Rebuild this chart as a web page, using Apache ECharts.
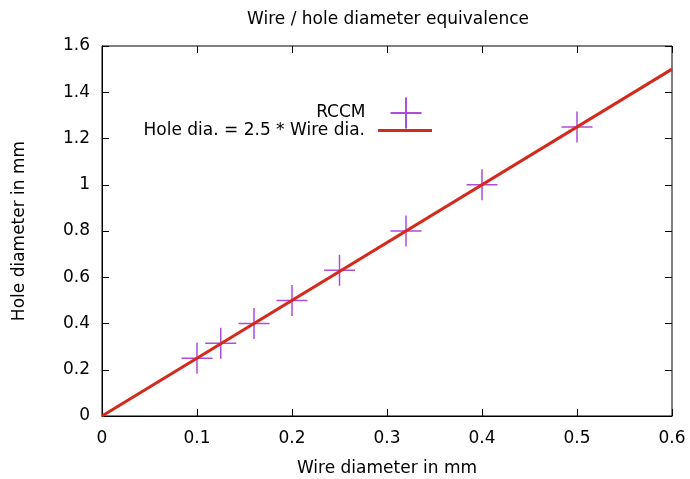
<!DOCTYPE html>
<html style="height: 100%">
<head>
<meta charset="utf-8">
<script src="https://cdn.jsdelivr.net/npm/echarts@6/dist/echarts.min.js"></script>
</head>
<body style="height: 100%; margin: 0; background: #fff">
<div id="container" style="width: 690px; height: 479px"></div>
<script type="text/javascript">
// measured points (wire dia., hole dia.)
var wireDia = [0.1, 0.125, 0.16, 0.2, 0.25, 0.32, 0.4, 0.5];
var holeDia = [0.25, 0.315, 0.4, 0.5, 0.63, 0.8, 1.0, 1.25];
// reference line endpoints
var lineX = [0, 0.6];
var lineY = [0, 1.5];

var xTicks = { min: 0, max: 0.6, interval: 0.1 };
var yTicks = { min: 0, max: 1.6, interval: 0.2 };

var font = 'DejaVu Sans';
var cross = 'path://M0,50L100,50M50,0L50,100';

var pts = wireDia.map(function (x, i) { return [x, holeDia[i]]; });
var linePts = lineX.map(function (x, i) { return [x, lineY[i]]; });

function inTick() {
    return { show: true, inside: true, length: 7, lineStyle: { color: '#000' } };
}

// mirror axes on top / right, ticks only (onZero off, else they jump to the other side)
function mirrorAxis(pos, range) {
    return Object.assign({
        type: 'value', position: pos,
        axisLabel: { show: false },
        axisTick: inTick(),
        axisLine: { show: false, onZero: false },
        splitLine: { show: false }
    }, range);
}

var dom = document.getElementById('container');
var myChart = echarts.init(dom);
var option = {
    animation: false,
    title: {
        text: 'Wire / hole diameter equivalence',
        left: 383, top: 6, textAlign: 'center',
        textStyle: { fontFamily: font, fontSize: 17, fontWeight: 'normal', color: '#000' }
    },
    legend: [{
        data: ['RCCM'],
        right: 261, top: 90,
        align: 'right', itemWidth: 31, itemHeight: 31,
        textStyle: { fontFamily: font, fontSize: 17, color: '#000', padding: [0, 20, 0, 0] }
    }, {
        data: [{ name: 'Hole dia. = 2.5 * Wire dia.', icon: 'rect' }],
        right: 253, top: 117,
        align: 'right', itemWidth: 54, itemHeight: 3,
        textStyle: { fontFamily: font, fontSize: 17, color: '#000', padding: [0, 8, 0, 0] }
    }],
    grid: {
        left: 102, right: 18, top: 46, bottom: 63,
        outerBoundsMode: 'none',
        show: true, borderColor: '#000', borderWidth: 1
    },
    xAxis: [{
        type: 'value', min: xTicks.min, max: xTicks.max, interval: xTicks.interval,
        name: 'Wire diameter in mm', nameLocation: 'middle', nameGap: 44,
        nameTextStyle: { fontFamily: font, fontSize: 17, color: '#000' },
        axisLine: { show: true, onZero: false, lineStyle: { color: '#000' } },
        axisTick: inTick(),
        axisLabel: { fontFamily: font, fontSize: 17, color: '#000', margin: 14 },
        splitLine: { show: false }
    }, mirrorAxis('top', xTicks)],
    yAxis: [{
        type: 'value', min: yTicks.min, max: yTicks.max, interval: yTicks.interval,
        name: 'Hole diameter in mm', nameLocation: 'middle', nameGap: 74,
        nameTextStyle: { fontFamily: font, fontSize: 17, color: '#000' },
        axisLine: { show: true, onZero: false, lineStyle: { color: '#000' } },
        axisTick: inTick(),
        axisLabel: { fontFamily: font, fontSize: 17, color: '#000', margin: 12 },
        splitLine: { show: false }
    }, mirrorAxis('right', yTicks)],
    series: [{
        name: 'Hole dia. = 2.5 * Wire dia.',
        type: 'line',
        data: linePts,
        symbol: 'none',
        lineStyle: { color: '#d42a1c', width: 3 },
        itemStyle: { color: '#d42a1c' },
        z: 3
    }, {
        name: 'RCCM',
        type: 'scatter',
        data: pts,
        symbol: cross,
        symbolSize: 31,
        symbolKeepAspect: true,
        itemStyle: { color: 'none', borderColor: '#9b1fc9', borderWidth: 1.5 },
        z: 2
    }]
};
myChart.setOption(option);
</script>
</body>
</html>
